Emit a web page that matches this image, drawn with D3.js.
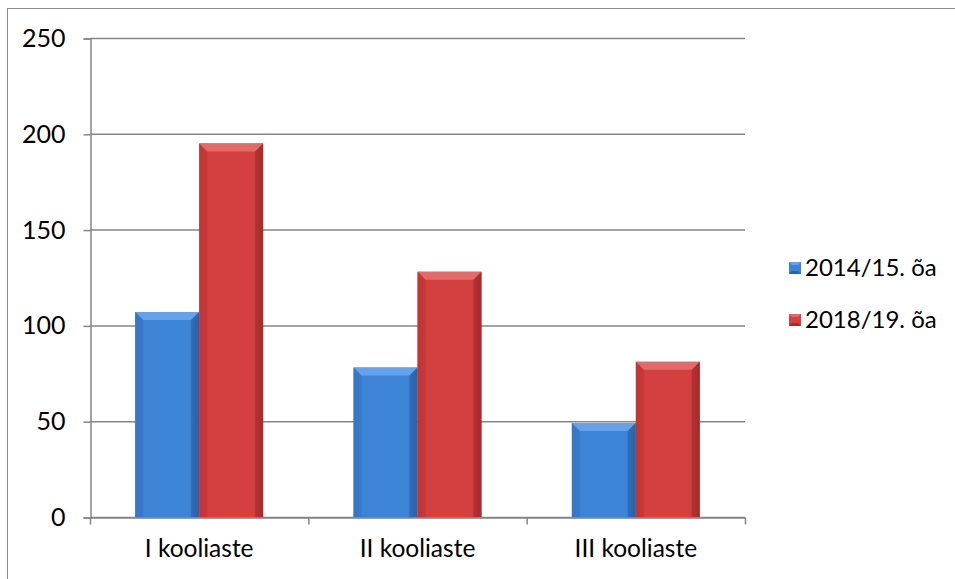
<!DOCTYPE html>
<html>
<head>
<meta charset="utf-8">
<script src="https://cdn.jsdelivr.net/npm/d3@7"></script>
<style>
  body { margin: 0; background: #fff; }
  text { font-family: Lato, "Open Sans", sans-serif; fill: #000; }
</style>
</head>
<body>
<script>
(function () {

var categories = ["I kooliaste", "II kooliaste", "III kooliaste"];
var seriesNames = ["2014/15. õa", "2018/19. õa"];
var values2014 = [107, 78, 49];
var values2018 = [195, 128, 81];
var yTicks = [0, 50, 100, 150, 200, 250];

var width = 955, height = 579;
var left = 90, right = 745, top = 38, bottom = 517;
var barW = 64, bevel = 8;

var colors = [
  { main: "#3d84d6", light: "#64a2ec", dark: "#2a63a8", side: "#3577c4" },
  { main: "#d43f3f", light: "#e46a6a", dark: "#a52c2c", side: "#c23636" }
];

var svg = d3.select("body").append("svg")
  .attr("width", width)
  .attr("height", height);

// outer frame
svg.append("rect")
  .attr("x", 7.5).attr("y", 8.5)
  .attr("width", 960).attr("height", 600)
  .attr("fill", "none").attr("stroke", "#8c8c8c").attr("stroke-width", 1);

var defs = svg.append("defs");
colors.forEach(function (c, i) {
  var g = defs.append("linearGradient").attr("id", "grad" + i)
    .attr("x1", "0").attr("x2", "1").attr("y1", "0").attr("y2", "0");
  g.append("stop").attr("offset", "0").attr("stop-color", c.side);
  g.append("stop").attr("offset", "0.15").attr("stop-color", c.main);
  g.append("stop").attr("offset", "0.85").attr("stop-color", c.main);
  g.append("stop").attr("offset", "1").attr("stop-color", c.dark);
});

var x = d3.scaleBand().domain(categories).range([left, right]);
var y = d3.scaleLinear().domain([0, 250]).range([bottom, top]);

// gridlines
svg.append("g").selectAll("line")
  .data(yTicks)
  .enter().append("line")
  .attr("x1", left).attr("x2", right)
  .attr("y1", function (d) { return y(d) + 0.5; })
  .attr("y2", function (d) { return y(d) + 0.5; })
  .attr("stroke", "#868686").attr("stroke-width", 1.5);

// y axis
var yAxis = svg.append("g")
  .attr("transform", "translate(" + (left + 0.5) + ",0.5)")
  .call(d3.axisLeft(y).tickValues(yTicks).tickSize(7).tickPadding(18));
yAxis.select(".domain").attr("stroke", "#868686").attr("stroke-width", 1.5);
yAxis.selectAll(".tick line").attr("stroke", "#868686").attr("stroke-width", 1.5);
yAxis.selectAll("text").style("font-size", "25px").attr("fill", "#000");

// x axis
var xAxis = svg.append("g")
  .attr("transform", "translate(0," + (bottom + 0.5) + ")")
  .call(d3.axisBottom(x).tickSize(0).tickPadding(22));
xAxis.select(".domain").attr("stroke", "#868686").attr("stroke-width", 1.5);
xAxis.selectAll("text").style("font-size", "24.5px").attr("fill", "#000");
var bounds = [left].concat(categories.map(function (c) { return x(c) + x.bandwidth(); }));
xAxis.selectAll(".sep").data(bounds).enter().append("line")
  .attr("x1", function (d) { return d + 0.5; })
  .attr("x2", function (d) { return d + 0.5; })
  .attr("y1", 0).attr("y2", 7)
  .attr("stroke", "#868686").attr("stroke-width", 1.5);

// bars
var series = [values2014, values2018];
series.forEach(function (vals, si) {
  var c = colors[si];
  var g = svg.append("g");
  var bars = g.selectAll("g").data(vals).enter().append("g");
  function bx(d, i) { return x(categories[i]) + x.bandwidth() / 2 - barW + si * barW; }
  bars.append("rect")
    .attr("x", bx)
    .attr("y", function (d) { return y(d); })
    .attr("width", barW)
    .attr("height", function (d) { return bottom - y(d); })
    .attr("fill", "url(#grad" + si + ")");
  // top bevel
  bars.append("path")
    .attr("d", function (d, i) {
      var x0 = bx(d, i), x1 = x0 + barW, t = y(d);
      return "M" + x0 + "," + t + "L" + x1 + "," + t + "L" + (x1 - bevel) + "," + (t + bevel) +
        "L" + (x0 + bevel) + "," + (t + bevel) + "Z";
    })
    .attr("fill", c.light);
  // left bevel
  bars.append("path")
    .attr("d", function (d, i) {
      var x0 = bx(d, i), t = y(d);
      return "M" + x0 + "," + t + "L" + (x0 + bevel) + "," + (t + bevel) + "L" + (x0 + bevel) + "," + bottom +
        "L" + x0 + "," + bottom + "Z";
    })
    .attr("fill", c.side).attr("opacity", 0.6);
  // right bevel
  bars.append("path")
    .attr("d", function (d, i) {
      var x1 = bx(d, i) + barW, t = y(d);
      return "M" + x1 + "," + t + "L" + (x1 - bevel) + "," + (t + bevel) + "L" + (x1 - bevel) + "," + bottom +
        "L" + x1 + "," + bottom + "Z";
    })
    .attr("fill", c.dark).attr("opacity", 0.6);
});

// legend
var legend = svg.append("g").attr("transform", "translate(789,262)");
var items = legend.selectAll("g").data(seriesNames).enter().append("g")
  .attr("transform", function (d, i) { return "translate(0," + i * 52 + ")"; });
items.append("rect")
  .attr("width", 12).attr("height", 12)
  .attr("fill", function (d, i) { return colors[i].main; });
items.append("path")
  .attr("d", "M0,0L12,0L9,3L3,3Z")
  .attr("fill", function (d, i) { return colors[i].light; });
items.append("path")
  .attr("d", "M0,12L12,12L9,9L3,9Z")
  .attr("fill", function (d, i) { return colors[i].dark; });
items.append("text")
  .attr("x", 16).attr("y", 6).attr("dy", "0.35em")
  .style("font-size", "24px")
  .text(function (d) { return d; });

}());
</script>
</body>
</html>
